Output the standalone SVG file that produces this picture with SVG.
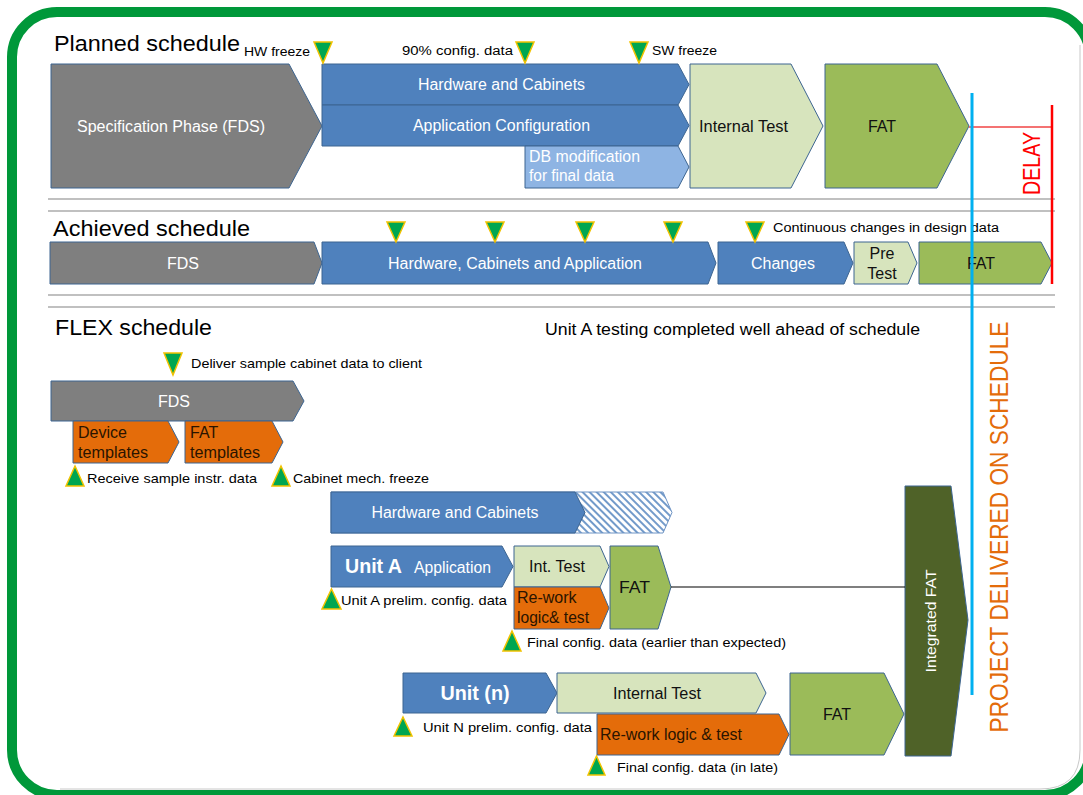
<svg xmlns="http://www.w3.org/2000/svg" width="1083" height="795" viewBox="0 0 1083 795">
<style>
.t{font-family:"Liberation Sans",Arial,sans-serif;}
.ttl{font-size:22px;fill:#000;}
.sm{font-size:12.5px;fill:#000;}
.in{font-size:16px;}
.w{fill:#ffffff;}
.k{fill:#111;}
.d{fill:#2a1400;}
.c{text-anchor:middle;}
.sh{stroke:#3d6591;stroke-width:1;}
.gray{fill:#7f7f7f;}
.blue{fill:#4f81bd;}
.lb{fill:#8eb4e3;}
.lg{fill:#d7e4bd;}
.gr{fill:#9bbb59;}
.or{fill:#e46c0a;}
.dg{fill:#4f6228;}
.tri{fill:#00a651;stroke:#f2c200;stroke-width:1.5;stroke-linejoin:miter;}
.sep{stroke:#c0c0c0;stroke-width:2;fill:none;}
</style>
<defs>
<pattern id="hatch" patternUnits="userSpaceOnUse" width="5" height="5" patternTransform="rotate(45)">
<rect width="5" height="5" fill="#ffffff"/>
<line x1="0" y1="1" x2="5" y2="1" stroke="#4f81bd" stroke-width="1.6"/>
</pattern>
</defs>
<rect x="0" y="0" width="1083" height="795" fill="#ffffff"/>
<!-- frame -->
<path d="M1080,45 L1080,750 Q1080,789 1040,789 L60,789" fill="none" stroke="#c8c8c8" stroke-width="1"/>
<rect x="12" y="12" width="1078" height="783" rx="45" ry="45" fill="none" stroke="#00983a" stroke-width="10"/>

<!-- separators -->
<g id="separators">
<line class="sep" x1="48" y1="199" x2="1055" y2="199"/>
<line class="sep" x1="48" y1="211" x2="1055" y2="211"/>
<line class="sep" x1="48" y1="295" x2="1055" y2="295"/>
<line class="sep" x1="48" y1="307" x2="1055" y2="307"/>
</g>

<!-- titles -->
<text class="t ttl" x="54" y="51" textLength="186" lengthAdjust="spacingAndGlyphs">Planned schedule</text>
<text class="t ttl" x="53" y="236" textLength="197" lengthAdjust="spacingAndGlyphs">Achieved schedule</text>
<text class="t ttl" x="55" y="335" textLength="157" lengthAdjust="spacingAndGlyphs">FLEX schedule</text>
<text class="t" x="545" y="335" font-size="16" fill="#000" textLength="375" lengthAdjust="spacingAndGlyphs">Unit A testing completed well ahead of schedule</text>

<!-- Planned schedule -->
<g id="p-spec"><polygon class="gray sh" points="51,64 289,64 322,126 289,188 51,188"/>
<text class="t in w c" x="171" y="132" textLength="188" lengthAdjust="spacingAndGlyphs">Specification Phase (FDS)</text></g>
<g id="p-hw"><polygon class="blue sh" points="322,64 678,64 689,84.5 678,105 322,105"/>
<text class="t in w c" x="501.5" y="90" textLength="167" lengthAdjust="spacingAndGlyphs">Hardware and Cabinets</text></g>
<g id="p-app"><polygon class="blue sh" points="322,105 678,105 689,125.5 678,146 322,146"/>
<text class="t in w c" x="501.5" y="131" textLength="177" lengthAdjust="spacingAndGlyphs">Application Configuration</text></g>
<g id="p-db"><polygon class="lb sh" points="525,146 678,146 689,167 678,188 525,188"/>
<text class="t in w" x="529" y="162" textLength="111" lengthAdjust="spacingAndGlyphs">DB modification</text>
<text class="t in w" x="529" y="181" textLength="85" lengthAdjust="spacingAndGlyphs">for final data</text></g>
<g id="p-it"><polygon class="lg sh" points="690,64 791,64 823,126 791,188 690,188"/>
<text class="t in k" x="699" y="132" textLength="89" lengthAdjust="spacingAndGlyphs">Internal Test</text></g>
<g id="p-fat"><polygon class="gr sh" points="825,64 937,64 969,126 937,188 825,188"/>
<text class="t in k c" x="882" y="132">FAT</text></g>
<g id="p-m1"><polygon class="tri" points="314,42 332,42 323,63"/>
<text class="t sm" x="244" y="56" textLength="66" lengthAdjust="spacingAndGlyphs">HW freeze</text></g>
<g id="p-m2"><polygon class="tri" points="516,42 534,42 525,63"/>
<text class="t sm" x="402" y="55" textLength="111" lengthAdjust="spacingAndGlyphs">90% config. data</text></g>
<g id="p-m3"><polygon class="tri" points="630,42 648,42 639,63"/>
<text class="t sm" x="652" y="55" textLength="65" lengthAdjust="spacingAndGlyphs">SW freeze</text></g>

<!-- Achieved schedule -->
<g id="a-fds"><polygon class="gray sh" points="50,242 314,242 322,263 314,284 50,284"/>
<text class="t in w c" x="183" y="269">FDS</text></g>
<g id="a-hca"><polygon class="blue sh" points="322,242 708,242 716,263 708,284 322,284"/>
<text class="t in w c" x="515" y="269" textLength="254" lengthAdjust="spacingAndGlyphs">Hardware, Cabinets and Application</text></g>
<g id="a-ch"><polygon class="blue sh" points="718,242 844,242 853,263 844,284 718,284"/>
<text class="t in w c" x="783" y="269" textLength="64" lengthAdjust="spacingAndGlyphs">Changes</text></g>
<g id="a-pre"><polygon class="lg sh" points="854,242 908,242 917,263 908,284 854,284"/>
<text class="t in k c" x="882" y="259">Pre</text>
<text class="t in k c" x="882" y="279">Test</text></g>
<g id="a-fat"><polygon class="gr sh" points="919,242 1041,242 1052,263 1041,284 919,284"/>
<text class="t in k c" x="981" y="269">FAT</text></g>
<g id="a-marks">
<polygon class="tri" points="387,222 405,222 396,242"/>
<polygon class="tri" points="486,222 504,222 495,242"/>
<polygon class="tri" points="576,222 594,222 585,242"/>
<polygon class="tri" points="664,222 682,222 673,242"/>
<polygon class="tri" points="746,222 764,222 755,242"/>
<text class="t sm" x="773" y="232" textLength="226" lengthAdjust="spacingAndGlyphs">Continuous changes in design data</text>
</g>

<!-- FLEX schedule -->
<g id="f-fds"><polygon class="gray sh" points="51,381 293,381 304,401 293,421 51,421"/>
<text class="t in w c" x="174" y="407">FDS</text></g>
<g id="f-dev"><polygon class="or sh" points="73,421 168,421 179,442 168,463 73,463"/>
<text class="t in d" x="78" y="438">Device</text>
<text class="t in d" x="78" y="458" textLength="70" lengthAdjust="spacingAndGlyphs">templates</text></g>
<g id="f-fatt"><polygon class="or sh" points="185,421 272,421 283,442 272,463 185,463"/>
<text class="t in d" x="190" y="438">FAT</text>
<text class="t in d" x="190" y="458" textLength="70" lengthAdjust="spacingAndGlyphs">templates</text></g>
<g id="f-m1"><polygon class="tri" points="164,353 182,353 173,375"/>
<text class="t" x="191" y="368" font-size="13.5" fill="#000" textLength="231" lengthAdjust="spacingAndGlyphs">Deliver sample cabinet data to client</text></g>
<g id="f-m2"><polygon class="tri" points="75,466 84,486 66,486"/>
<text class="t" x="87" y="483" font-size="13.5" fill="#000" textLength="170" lengthAdjust="spacingAndGlyphs">Receive sample instr. data</text></g>
<g id="f-m3"><polygon class="tri" points="281,466 290,486 272,486"/>
<text class="t" x="293" y="483" font-size="13.5" fill="#000" textLength="136" lengthAdjust="spacingAndGlyphs">Cabinet mech. freeze</text></g>

<g id="f-hw">
<polygon fill="url(#hatch)" stroke="#6f94c4" stroke-width="1" points="331,492 663,492 672,512.5 663,533 331,533"/>
<polygon class="blue sh" points="331,492 575,492 585,512.5 575,533 331,533"/>
<text class="t in w c" x="455" y="518" textLength="167" lengthAdjust="spacingAndGlyphs">Hardware and Cabinets</text></g>

<g id="f-unita"><polygon class="blue sh" points="331,546 502,546 513,566.5 502,587 331,587"/>
<text class="t w" x="345" y="573" font-size="20" font-weight="bold" textLength="57" lengthAdjust="spacingAndGlyphs">Unit A</text>
<text class="t in w" x="414" y="573" textLength="77" lengthAdjust="spacingAndGlyphs">Application</text></g>
<g id="f-ait"><polygon class="lg sh" points="514,546 600,546 609,566.5 600,587 514,587"/>
<text class="t in k c" x="557" y="572" textLength="56" lengthAdjust="spacingAndGlyphs">Int. Test</text></g>
<g id="f-arw"><polygon class="or sh" points="514,587 600,587 609,608 600,629 514,629"/>
<text class="t in d" x="517" y="603">Re-work</text>
<text class="t in d" x="517" y="623" textLength="72" lengthAdjust="spacingAndGlyphs">logic&amp; test</text></g>
<g id="f-afat"><polygon class="gr sh" points="610,546 658,546 671,587 658,629 610,629"/>
<text class="t in k" x="619" y="593" textLength="31" lengthAdjust="spacingAndGlyphs">FAT</text></g>
<g id="f-am1"><polygon class="tri" points="331.5,589 341,609 322,609"/>
<text class="t" x="341" y="605" font-size="13.5" fill="#000" textLength="166" lengthAdjust="spacingAndGlyphs">Unit A prelim. config. data</text></g>
<g id="f-am2"><polygon class="tri" points="512,631 521,651 503,651"/>
<text class="t" x="527" y="647" font-size="13.5" fill="#000" textLength="259" lengthAdjust="spacingAndGlyphs">Final config. data (earlier than expected)</text></g>

<g id="f-unitn"><polygon class="blue sh" points="403,673 546,673 557,693 546,713 403,713"/>
<text class="t w c" x="475" y="700" font-size="20" font-weight="bold" textLength="69" lengthAdjust="spacingAndGlyphs">Unit (n)</text></g>
<g id="f-nit"><polygon class="lg sh" points="557,673 756,673 766,693 756,713 557,713"/>
<text class="t in k c" x="657" y="699" textLength="88" lengthAdjust="spacingAndGlyphs">Internal Test</text></g>
<g id="f-nrw"><polygon class="or sh" points="597,714 779,714 789,734.5 779,755 597,755"/>
<text class="t in d" x="600" y="740" textLength="142" lengthAdjust="spacingAndGlyphs">Re-work logic &amp; test</text></g>
<g id="f-nfat"><polygon class="gr sh" points="790,673 884,673 904,714 884,755 790,755"/>
<text class="t in k c" x="837" y="720">FAT</text></g>
<g id="f-nm1"><polygon class="tri" points="403,717 412,736 394,736"/>
<text class="t" x="423" y="732" font-size="13.5" fill="#000" textLength="169" lengthAdjust="spacingAndGlyphs">Unit N prelim. config. data</text></g>
<g id="f-nm2"><polygon class="tri" points="596.5,756 605,775 588,775"/>
<text class="t" x="617" y="772" font-size="13.5" fill="#000" textLength="161" lengthAdjust="spacingAndGlyphs">Final config. data (in late)</text></g>

<g id="f-ifat"><polygon class="dg sh" points="905,486 951,486 968,620 951,756 905,756"/>
<text class="t w c" font-size="15" transform="translate(936,621) rotate(-90)" x="0" y="0" textLength="103" lengthAdjust="spacingAndGlyphs">Integrated FAT</text></g>

<!-- connectors / markers -->
<g id="connectors">
<line x1="671" y1="587" x2="905" y2="587" stroke="#000" stroke-width="1.2"/>
<line x1="969" y1="127" x2="1052" y2="127" stroke="#f47373" stroke-width="2"/>
<line x1="1052" y1="105" x2="1052" y2="284" stroke="#ff0000" stroke-width="2.5"/>
<line x1="972" y1="93" x2="972" y2="695" stroke="#00b0f0" stroke-width="3"/>
</g>

<text class="t c" fill="#ff0000" font-size="24" transform="translate(1040,163.5) rotate(-90)" x="0" y="0" textLength="63" lengthAdjust="spacingAndGlyphs">DELAY</text>
<text class="t c" fill="#e46c0a" font-size="25" transform="translate(1008,527) rotate(-90)" x="0" y="0" textLength="411" lengthAdjust="spacingAndGlyphs">PROJECT DELIVERED ON SCHEDULE</text>
</svg>
